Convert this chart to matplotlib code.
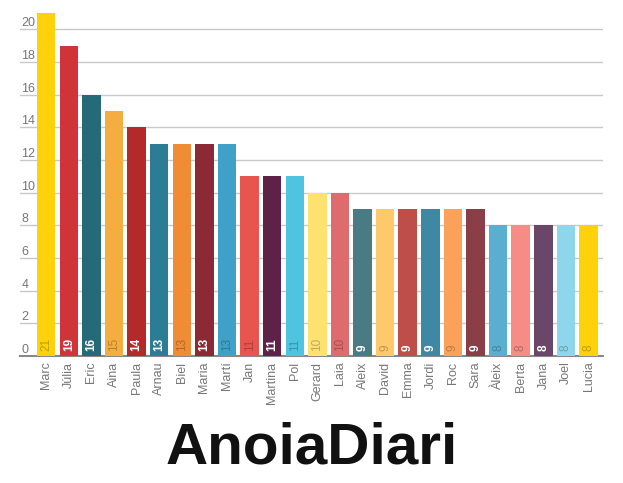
import matplotlib
matplotlib.use('Agg')
import matplotlib.pyplot as plt
import matplotlib.colors as mcolors
import numpy as np

# Noms i recompte
noms = ['Marc', 'Júlia', 'Eric', 'Aina', 'Paula', 'Arnau', 'Biel', 'Maria', 'Martí', 'Jan',
        'Martina', 'Pol', 'Gerard', 'Laia', 'Aleix', 'David', 'Emma', 'Jordi', 'Roc', 'Sara',
        'Àleix', 'Berta', 'Jana', 'Joel', 'Lucia']
valors = [21, 19, 16, 15, 14, 13, 13, 13, 13, 11, 11, 11, 10, 10, 9, 9, 9, 9, 9, 9, 8, 8, 8, 8, 8]
colors = ['#FDD20A', '#D0343A', '#266A7A', '#F4AE3F', '#B32A2A', '#2C7C96', '#F08C35', '#8B2A35',
          '#3FA0C8', '#E8554E', '#5E2148', '#4FC4E0', '#FDE272', '#DE6B6E', '#4A7A84', '#FDC96A',
          '#BE4E4A', '#3E88A4', '#FCA15A', '#8A3E48', '#5AAED0', '#F58C86', '#6A4668', '#8ED6EC',
          '#FDD20A']
# etiqueta blanca (True) o del mateix to (False)
blanca = [False, True, True, False, True, True, False, True, False, False, True, False, False,
          False, True, False, True, True, False, True, False, False, True, False, False]
yticks = [0, 2, 4, 6, 8, 10, 12, 14, 16, 18, 20]

font = ['Liberation Sans Narrow', 'Liberation Sans', 'DejaVu Sans']

fig = plt.figure(figsize=(6.23, 4.83), dpi=100)
ax = fig.add_axes([20 / 623, 127 / 483, 583 / 623, 348 / 483])

x = np.arange(len(noms))
ax.bar(x, valors, width=0.82, color=colors, zorder=3)
ax.set_xlim(-1.16, len(noms) - 0.36)
ax.set_ylim(0, 21.3)

# graella
ax.set_yticks(yticks)
ax.yaxis.grid(True, color='#c8c8c8', linewidth=1, zorder=0)
ax.tick_params(axis='y', length=0, pad=-1, labelsize=9, labelcolor='#777777')
for lbl in ax.get_yticklabels():
    lbl.set_ha('left')
    lbl.set_va('bottom')
    lbl.set_family(font)

for s in ['top', 'right', 'left']:
    ax.spines[s].set_visible(False)
ax.spines['bottom'].set_color('#888888')
ax.spines['bottom'].set_linewidth(1.5)

ax.set_xticks(x)
ax.set_xticklabels(noms, rotation=90, fontsize=9, color='#777777', family=font)
ax.tick_params(axis='x', length=0, pad=4)

# valors dins les barres
for xi, v, c, b in zip(x, valors, colors, blanca):
    if b:
        ax.text(xi, 0.3, str(v), rotation=90, ha='center', va='bottom', fontsize=8.5,
                color='white', fontweight='bold', family=font, zorder=4)
    else:
        rgb = np.array(mcolors.to_rgb(c)) * 0.75
        ax.text(xi, 0.3, str(v), rotation=90, ha='center', va='bottom', fontsize=8.5,
                color=rgb, family=font, zorder=4)

# logotip
fig.text(312 / 623, 34 / 483, 'AnoiaDiari', ha='center', va='center', fontsize=42,
         fontweight='bold', family='Liberation Sans', color='#111111')

fig.savefig('out.png', dpi=100)
